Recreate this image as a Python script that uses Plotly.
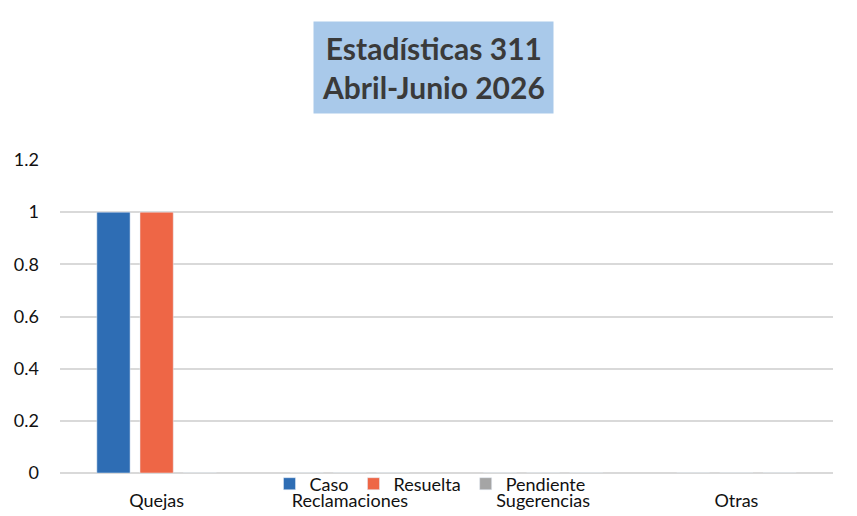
import plotly.graph_objects as go

categories = ["Quejas", "Reclamaciones", "Sugerencias", "Otras"]
caso = [1, 0, 0, 0]
resuelta = [1, 0, 0, 0]
pendiente = [0, 0, 0, 0]
y_ticks = [0, 0.2, 0.4, 0.6, 0.8, 1, 1.2]
y_tick_labels = ["0", "0.2", "0.4", "0.6", "0.8", "1", "1.2"]

FONT = "Lato"
W, H = 849, 508  # page body has an 8px margin
fig = go.Figure()
fig.add_bar(x=categories, y=caso, name="Caso", marker_color="#2E6DB4")
fig.add_bar(x=categories, y=resuelta, name="Resuelta", marker_color="#EE6646")
fig.add_bar(x=categories, y=pendiente, name="Pendiente", marker_color="#A5A5A5")

fig.update_layout(
    width=W, height=H,
    margin=dict(l=52, r=24, t=152, b=43, autoexpand=False),
    paper_bgcolor="white", plot_bgcolor="white",
    barmode="group", bargap=0.33, bargroupgap=0.23,
    font=dict(family=FONT, size=18, color="#111111"),
    showlegend=True,
    legend=dict(orientation="h", x=422 / W, xanchor="center", xref="container",
                y=1 - 476 / H, yanchor="middle", yref="container",
                font=dict(size=18, color="#111111"), bgcolor="rgba(0,0,0,0)",
                itemwidth=30, tracegroupgap=0),
    xaxis=dict(showgrid=False, showline=False, ticks="", tickfont=dict(size=18),
               ticklabelstandoff=15),
    yaxis=dict(range=[0, 1.2], tickvals=y_ticks, ticktext=y_tick_labels,
               showgrid=True, gridcolor="#D9D9D9", gridwidth=1.5,
               zeroline=True, zerolinecolor="#D9D9D9", zerolinewidth=1.5,
               showline=False, ticks="", ticklabelstandoff=20,
               tickfont=dict(size=18)),
)
fig.add_annotation(
    xref="paper", yref="paper", x=(433 - 60) / 773, y=1 + (160 - 68) / 313,
    text="<b>Estadísticas 311<br>Abril-Junio 2026</b>", showarrow=False,
    font=dict(family=FONT, size=30, color="#3a3a3a"),
    bgcolor="#A9C9EA", borderpad=8, xanchor="center", yanchor="middle",
    align="center",
)
fig.write_html("out.html")
